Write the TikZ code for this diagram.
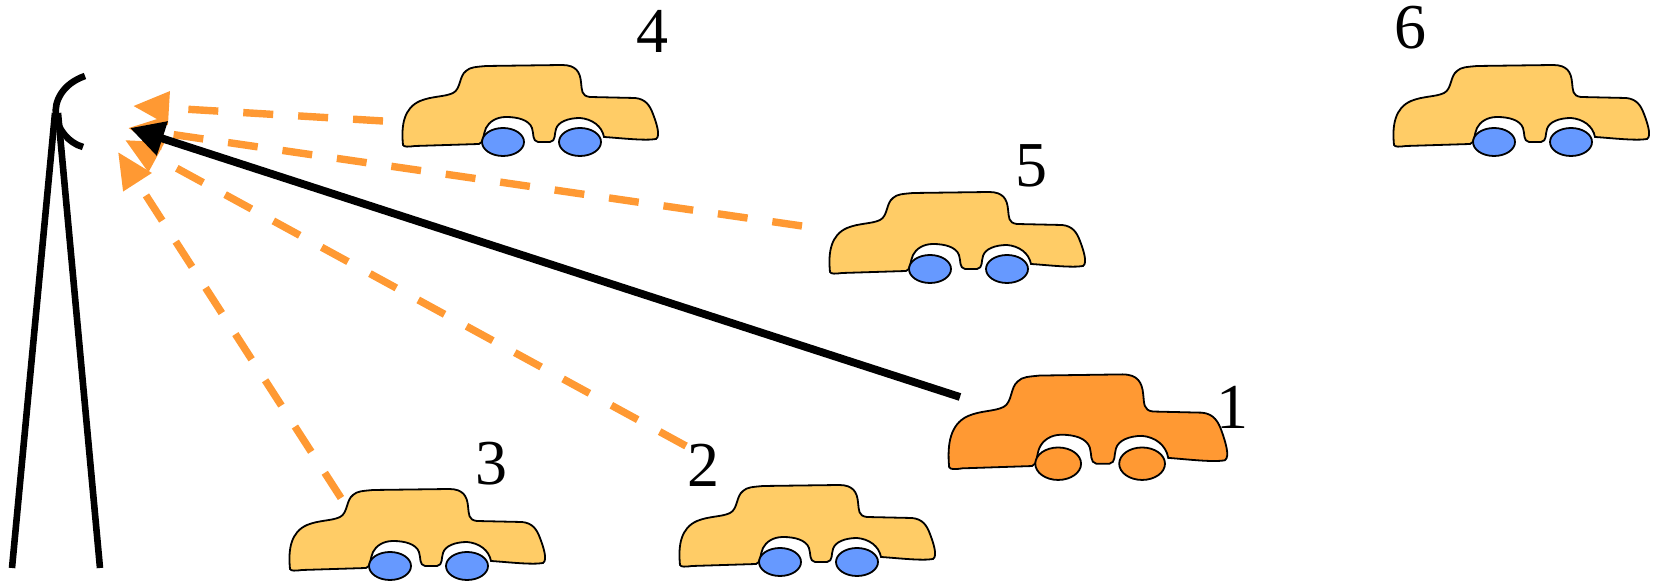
\documentclass[tikz,border=0pt]{standalone}
\usepackage{fontspec}
\setmainfont{Liberation Serif}
\usetikzlibrary{arrows.meta}

\definecolor{carbody}{RGB}{255,204,102}
\definecolor{carwheel}{RGB}{102,153,255}
\definecolor{signal}{RGB}{255,153,51}

\tikzset{
  pics/car/.style 2 args={code={
    \draw[fill=#1, line width=0.9pt] (13,95)
      .. controls (11,75) and (14,58) .. (30,51)
      .. controls (42,46) and (55,47) .. (63,43)
      .. controls (71,39) and (69,26) .. (76,21)
      .. controls (80,17) and (86,17) .. (96,16)
      -- (172,15)
      .. controls (186,15) and (190,22) .. (191,32)
      .. controls (192,40) and (191,46) .. (200,47)
      -- (245,48)
      .. controls (256,49) and (260,56) .. (263,64)
      .. controls (266,72) and (271,86) .. (266,89)
      .. controls (255,91) and (230,88) .. (214,87)
      .. controls (212,76) and (202,69) .. (190,68)
      .. controls (178,68) and (168,72) .. (166,79)
      .. controls (164,85) and (166,91) .. (160,92)
      -- (148,92)
      .. controls (142,91) and (144,84) .. (142,78)
      .. controls (139,70) and (128,67) .. (116,67)
      .. controls (106,67) and (99,72) .. (96,78)
      .. controls (93,84) and (94,93) .. (89,94)
      -- (25,96) .. controls (18,97) and (14,97) .. (13,95) -- cycle;
    \draw[fill=#2, line width=0.9pt] (113,92) ellipse (21 and 14);
    \draw[fill=#2, line width=0.9pt] (190,92) ellipse (21 and 14);
  }}
}

\begin{document}
\begin{tikzpicture}[x=0.5pt, y=-0.5pt,
    num/.style={anchor=base, font=\fontsize{32}{36}\selectfont},
    beam/.style={signal, line width=3.7pt, dash pattern=on 15pt off 12.5pt,
      -{Triangle[length=18pt, width=16pt]}},
    direct/.style={line width=3.9pt, -{Triangle[length=17pt, width=17pt]}}]
    \useasboundingbox (0,0) rectangle (1661,581);

    % antenna mast and dish
    \draw[line width=3.3pt] (12,568) -- (55,113);
    \draw[line width=3.3pt] (58,113) -- (100,568);
    \draw[line width=3.3pt] (85,76) .. controls (62,84) and (54,102) .. (56,115)
        .. controls (57,128) and (68,143) .. (83,147);

    % vehicles
    \pic at (390,50) {car={carbody}{carwheel}};
    \pic at (1381,50) {car={carbody}{carwheel}};
    \pic at (817,177) {car={carbody}{carwheel}};
    \pic at (277,474) {car={carbody}{carwheel}};
    \pic at (667,470) {car={carbody}{carwheel}};
    \pic[xscale=1.09, yscale=1.16] at (935,357) {car={signal}{signal}};

    \node[num] (n1) at (1232,429) {1};
    \node[num] (n2) at (703,487) {2};
    \node[num] (n3) at (491,485) {3};
    \node[num] (n4) at (652,53) {4};
    \node[num] (n5) at (1031,187) {5};
    \node[num] (n6) at (1410,49) {6};

    % end points of the paths
    \coordinate (s1) at (960,397);
    \coordinate (s2) at (686,446);
    \coordinate (s3) at (341,498);
    \coordinate (s4) at (383,121);
    \coordinate (s5) at (802,226);
    \coordinate (r1) at (130,128);
    \coordinate (r2) at (125,140);
    \coordinate (r3) at (118,152);
    \coordinate (r4) at (133,106);
    \coordinate (r5) at (128,128);

    % reflected paths, then the direct one on top
    \draw[beam] (s4) -- (r4);
    \draw[beam] (s5) -- (r5);
    \draw[beam] (s2) -- (r2);
    \draw[beam] (s3) -- (r3);
    \draw[direct] (s1) -- (r1);
\end{tikzpicture}
\end{document}
